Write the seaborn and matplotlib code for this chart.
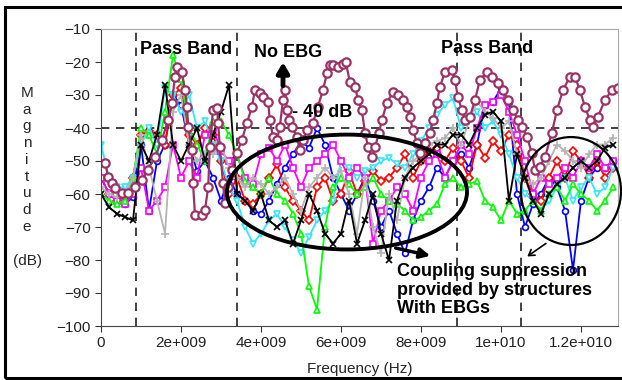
import numpy as np
import matplotlib
matplotlib.use('Agg')
import matplotlib.pyplot as plt
import seaborn as sns
from matplotlib.patches import Ellipse, Rectangle

# frequency sweep of the EBG structures (GHz)
freq_ghz = np.round(np.arange(0, 12.81, 0.2), 1)

blue_db = [-55, -60, -62, -63, -61, -45, -65, -50, -45, -30,
           -33, -45, -53, -50, -55, -62, -55, -60, -62, -65,
           -66, -62, -57, -52, -48, -44, -46, -40, -45, -55,
           -60, -65, -60, -55, -62, -70, -65, -72, -78, -68,
           -62, -58, -52, -55, -50, -48, -52, -45, -33, -32,
           -28, -32, -60, -70, -63, -60, -55, -58, -65, -83,
           -62, -55, -52, -52, -50]
red_db = [-55, -60, -62, -61, -55, -42, -41, -42, -45, -30,
          -28, -42, -45, -40, -42, -50, -60, -55, -62, -63,
          -60, -55, -51, -58, -62, -65, -68, -58, -55, -62,
          -60, -53, -60, -56, -53, -56, -55, -52, -48, -55,
          -50, -47, -46, -50, -46, -50, -55, -45, -49, -44,
          -47, -42, -45, -55, -60, -62, -55, -50, -55, -47,
          -50, -55, -50, -55, -52]
green_db = [-60, -62, -63, -62, -55, -40, -42, -48, -35, -18,
            -25, -40, -45, -50, -38, -38, -42, -48, -56, -58,
            -60, -55, -60, -62, -66, -72, -88, -95, -70, -58,
            -55, -57, -60, -58, -55, -60, -62, -63, -65, -68,
            -67, -65, -63, -57, -55, -58, -57, -56, -62, -64,
            -68, -62, -66, -65, -62, -65, -60, -58, -62, -57,
            -60, -62, -65, -62, -58]
cyan_db = [-45, -55, -58, -58, -55, -45, -40, -45, -28, -30,
           -35, -30, -40, -38, -45, -50, -58, -62, -70, -75,
           -72, -68, -66, -70, -74, -78, -73, -68, -65, -62,
           -50, -52, -55, -53, -52, -50, -49, -51, -52, -48,
           -44, -40, -36, -33, -31, -40, -38, -35, -40, -38,
           -42, -48, -55, -60, -62, -65, -62, -58, -55, -62,
           -58, -55, -60, -58, -52]
magenta_db = [-55, -60, -62, -63, -60, -52, -65, -62, -58, -45,
              -55, -50, -55, -42, -40, -47, -50, -48, -55, -57,
              -48, -46, -50, -45, -52, -58, -52, -50, -48, -45,
              -50, -55, -52, -55, -75, -65, -62, -58, -60, -65,
              -55, -50, -48, -55, -50, -45, -48, -40, -33, -32,
              -30, -35, -42, -50, -60, -55, -57, -55, -52, -55,
              -50, -52, -48, -52, -50]
black_db = [-60, -64, -66, -67, -68, -45, -50, -42, -27, -45,
            -50, -45, -40, -50, -42, -35, -27, -60, -62, -65,
            -60, -68, -70, -68, -75, -68, -60, -65, -72, -75,
            -72, -62, -75, -68, -60, -72, -80, -62, -55, -52,
            -50, -48, -45, -45, -42, -42, -45, -40, -36, -35,
            -38, -62, -48, -55, -62, -66, -60, -57, -55, -52,
            -50, -52, -50, -46, -45]
gray_db = [-58, -60, -61, -60, -55, -42, -52, -62, -72, -35,
           -30, -45, -50, -48, -48, -45, -52, -55, -58, -55,
           -57, -60, -58, -55, -60, -65, -58, -55, -52, -55,
           -53, -60, -72, -55, -70, -78, -60, -68, -55, -50,
           -48, -45, -44, -43, -40, -45, -38, -32, -35, -37,
           -40, -38, -48, -55, -57, -55, -50, -45, -47, -50,
           -52, -48, -45, -45, -43]

# reference structure without EBG
noebg_ghz = [0.1, 0.18, 0.27, 0.35, 0.52, 0.68, 0.85, 1.02, 1.17, 1.35,
             1.52, 1.68, 1.77, 1.85, 1.9, 2.02, 2.1, 2.15, 2.18, 2.27,
             2.3, 2.35, 2.52, 2.6, 2.68, 2.72, 2.8, 2.9, 2.93, 2.97,
             3.05, 3.1, 3.17, 3.27, 3.4, 3.52, 3.65, 3.77, 3.85, 3.97,
             4.05, 4.18, 4.22, 4.3, 4.4, 4.47, 4.55, 4.6, 4.65, 4.7,
             4.77, 4.9, 4.97, 5.05, 5.15, 5.3, 5.42, 5.55, 5.65, 5.72,
             5.8, 5.92, 6.05, 6.12, 6.22, 6.35, 6.43, 6.52, 6.6, 6.68,
             6.77, 6.85, 6.95, 7.02, 7.15, 7.3, 7.42, 7.55, 7.65, 7.72,
             7.8, 7.9, 7.97, 8.1, 8.22, 8.3, 8.4, 8.47, 8.6, 8.77,
             8.85, 8.92, 9.02, 9.1, 9.22, 9.35, 9.47, 9.65, 9.77, 9.92,
             10.05, 10.17, 10.3, 10.42, 10.52, 10.65, 10.77, 10.85, 10.97, 11.1,
             11.27, 11.4, 11.55, 11.72, 11.85, 11.97, 12.1, 12.22, 12.3, 12.42,
             12.6, 12.77, 12.92]
noebg_db = [-50.5, -54.8, -56.7, -58.2, -59.7, -59.7, -57.9, -55.8, -52.7, -48.8,
            -43.6, -37.6, -32.4, -24.5, -21.5, -23, -28.5, -33.6, -39.7, -46.7,
            -56.7, -66.4, -66.4, -64.8, -57.9, -45.8, -34.5, -34, -38.5, -45.8,
            -56.7, -62.7, -57.9, -52.7, -47.6, -43.6, -38.5, -33.6, -28.5, -29.5,
            -30.6, -32, -37.6, -42.7, -43.6, -39.7, -31.5, -28.5, -34.5, -37.6,
            -39.7, -42.7, -46.7, -43.6, -40.6, -38.5, -33.6, -28.5, -23.3, -21,
            -21, -21.5, -20.5, -20, -26, -27.6, -31.5, -34.5, -41.5, -45.8,
            -48.8, -45.8, -41.5, -37.6, -32.4, -29.1, -30, -31.5, -33.6, -36.7,
            -40.6, -44.5, -47.6, -44.5, -41.5, -37.6, -32.4, -27.6, -23, -22.4,
            -25.5, -30.6, -34.5, -37.6, -36.7, -31.5, -25.5, -23, -24.5, -26.3,
            -28.5, -31.5, -34.5, -37.6, -39.7, -42.7, -47.6, -52.7, -51.8, -48.8,
            -41.5, -34.5, -28.5, -24.5, -24.5, -28.5, -33.6, -37.6, -39.7, -36.7,
            -31.5, -28.5, -28]

pass_band_edges_ghz = [0.875, 3.4, 8.9, 10.5]
x_ticks = [0, 2e9, 4e9, 6e9, 8e9, 1e10, 1.2e10]
x_tick_labels = ['0', '2e+009', '4e+009', '6e+009', '8e+009', '1e+010', '1.2e+010']

sns.set_style('white')
plt.rcParams['font.family'] = ['Liberation Sans', 'DejaVu Sans']

fig = plt.figure(figsize=(6.22, 3.80), dpi=100)
ax = fig.add_axes([101 / 622, 1 - 326 / 380, 517 / 622, 297 / 380])

f_hz = freq_ghz * 1e9
series = [
    (blue_db, '#0000ff', 'o', 4.2),
    (red_db, '#ff0000', 'D', 3.8),
    (cyan_db, '#33e6ff', 'v', 5),
    (magenta_db, '#ff00ff', 's', 4.5),
    (green_db, '#00ff00', '^', 5),
    (gray_db, '#b4b4b4', '+', 6),
    (black_db, '#000000', 'x', 5),
]
for vals, col, mk, ms in series:
    sns.lineplot(x=f_hz, y=vals, ax=ax, color=col, marker=mk, markersize=ms,
                 markerfacecolor='white', markeredgecolor=col, markeredgewidth=1.2,
                 linewidth=1.3, sort=False, estimator=None)

sns.lineplot(x=np.array(noebg_ghz) * 1e9, y=noebg_db, ax=ax, color='#993366',
             marker='o', markersize=6, markerfacecolor='white', markeredgecolor='#993366',
             markeredgewidth=1.6, linewidth=1.6, sort=False, estimator=None)

for edge in pass_band_edges_ghz:
    ax.axvline(edge * 1e9, color='#222222', ls=(0, (5, 4)), lw=1.2, zorder=1)
ax.axhline(-40, color='#222222', ls=(0, (5, 4)), lw=1.2, zorder=1)

ax.set_xlim(0, 1.2925e10)
ax.set_ylim(-100, -10)
ax.set_xticks(x_ticks)
ax.set_xticklabels(x_tick_labels)
ax.set_yticks(range(-100, 0, 10))
ax.tick_params(axis='both', labelsize=11, length=4, direction='out', colors='#333333',
               labelcolor='#222222', left=True, bottom=True)
for side in ['left', 'bottom']:
    ax.spines[side].set_color('#444444')
for side in ['top', 'right']:
    ax.spines[side].set_color('#aaaaaa')
ax.set_xlabel('')
ax.set_ylabel('')

# annotations
bold = dict(fontsize=13, fontweight='bold', color='black')
ax.text(2.12e9, -16.1, 'Pass Band', ha='center', va='center', **bold)
ax.text(9.65e9, -15.8, 'Pass Band', ha='center', va='center', **bold)
ax.text(4.68e9, -17, 'No EBG', ha='center', va='center', **bold)
ax.text(5.52e9, -35.2, '- 40 dB', ha='center', va='center', **bold)
ax.text(7.4e9, -81, 'Coupling suppression\nprovided by structures\nWith EBGs',
        ha='left', va='top', linespacing=1.1, **bold)

ax.annotate('', xy=(4.55e9, -19.2), xytext=(4.55e9, -28),
            arrowprops=dict(arrowstyle='-|>,head_width=0.35,head_length=0.6', lw=3.5, color='black'))
ax.add_patch(Ellipse((6.15e9, -59.4), 6.0e9, 34.8, fill=False, lw=2.8, color='black', zorder=10))
ax.add_patch(Ellipse((11.75e9, -59.1), 2.5e9, 32.7, fill=False, lw=1.6, color='black',
                     zorder=10, clip_on=False))
ax.annotate('', xy=(8.3e9, -78.9), xytext=(7.3e9, -76.2),
            arrowprops=dict(arrowstyle='-|>,head_width=0.3,head_length=0.6', lw=2.5, color='black'))
ax.annotate('', xy=(10.6e9, -79.4), xytext=(11.18e9, -74.5),
            arrowprops=dict(arrowstyle='->,head_width=0.25,head_length=0.4', lw=1.2, color='black'))

# axis labels, drawn like the original (stacked letters)
for i, ch in enumerate('Magnitude'):
    fig.text(27 / 622, 1 - (93 + i * 16.7) / 380, ch, ha='center', va='center', fontsize=11)
fig.text(27 / 622, 1 - 261 / 380, '(dB)', ha='center', va='center', fontsize=11)
fig.text(360 / 622, 1 - 369 / 380, 'Frequency (Hz)', ha='center', va='center', fontsize=11)

# outer frame
fig.patches.append(Rectangle((5 / 622, 2 / 380), 1.0, 1 - 9 / 380, transform=fig.transFigure,
                             fill=False, lw=2.2, edgecolor='black'))

plt.savefig('out.png', dpi=100)
